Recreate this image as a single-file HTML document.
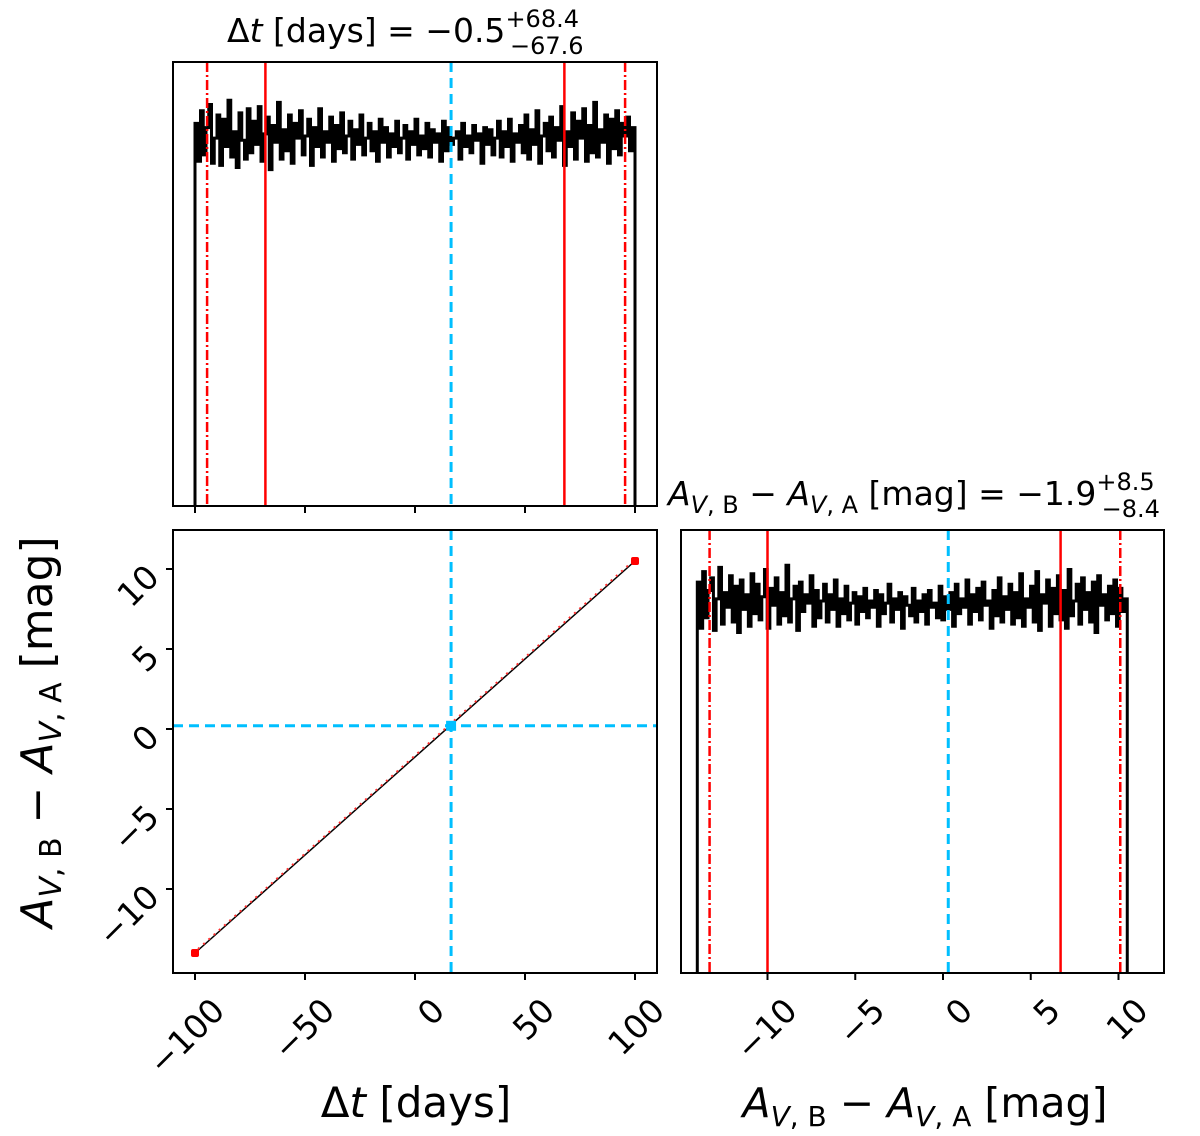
<!DOCTYPE html>
<html><head><meta charset="utf-8"><style>
html,body{margin:0;padding:0;background:#fff;}
svg{display:block;font-family:"DejaVu Sans","Liberation Sans",sans-serif;}
</style></head><body>
<svg id="chart" width="1200" height="1136" viewBox="0 0 1200 1136" xmlns="http://www.w3.org/2000/svg"></svg>
<script>
// ---- data ----
const dtRange = [-100, 100];
const avRange = [-14, 10.5];
const dtTicks = [-100, -50, 0, 50, 100];
const dtTickLabels = ["\u2212100", "\u221250", "0", "50", "100"];
const avTicks = [-10, -5, 0, 5, 10];
const avTickLabels = ["\u221210", "\u22125", "0", "5", "10"];
const dtQuantiles = [-68.0, 67.9];
const dtOuter = [-94.5, 95.5];
const dtTruth = 16.4;
const avQuantiles = [-10.0, 6.7];
const avOuter = [-13.3, 10.1];
const avTruth = 0.3;
const avTruthY = 0.2;
const scatterX = [-100, 100];
const scatterY = [-14, 10.5];
const dtCounts = [106,88,112,91,104,115,87,99,110,86,108,95,117,90,102,85,111,98,89,113,92,107,96,114,88,101,109,84,105,97,116,89,103,93,110,87,106,99,112,91,100,108,86,104,95,113,90,102,97,109,88,105,94,111,92,100,107,89,103,96,110,91,99,106,93,102,88,108,97,104,90,101,95,107,92,99,105,89,102,96,108,91,100,94,106,90,103,97,101,88,107,93,104,96,99,102,89,106,95,100,92,105,98,101,87,104,96,103,91,99,107,90,102,95,108,88,101,97,105,92,110,89,103,96,112,87,100,106,93,109,90,104,98,114,86,102,95,111,89,107,99,113,88,105,92,116,90,103,97,110,87,108,94,112,91,106,100,109,93,104];
const avCounts = [109,87,114,92,105,111,86,101,116,89,104,97,112,90,107,85,110,96,103,88,113,94,108,91,102,115,87,106,98,111,89,104,93,117,90,101,107,86,109,95,103,99,112,88,105,92,100,108,90,103,96,110,88,101,94,107,91,99,104,89,102,95,106,92,100,97,105,88,103,94,99,108,90,101,96,104,87,102,98,93,106,90,100,95,103,89,105,97,99,92,107,91,102,96,104,88,108,94,101,97,110,89,103,95,106,91,109,98,100,87,105,93,111,90,102,96,108,89,104,92,113,88,101,97,107,90,114,86,103,99,110,88,106,94,112,91,105,87,115,93,100,108,89,111,96,104,90,109,85,112,98,103,91,107,94,110,88,106,95,101];

const NS = "http://www.w3.org/2000/svg";
const svg = document.getElementById("chart");
function el(tag, attrs, parent){ const e=document.createElementNS(NS,tag); for(const k in attrs) e.setAttribute(k,attrs[k]); (parent||svg).appendChild(e); return e; }

const P1 = {x0:173,x1:657,y0:62,y1:506};
const P2 = {x0:173,x1:657,y0:530,y1:973};
const P3 = {x0:681,x1:1164,y0:530,y1:973};
const xDt = v => 415 + 2.2*v;
const yAv = v => 729 - 16*v;
const xAv = v => 943 + 17.55*v;
const yC1 = c => 136 - 2.1*(c-100);
const yC3 = c => 601 - 2.1*(c-100);

function vline(x,y0,y1,color,dash,name,w){
  const l=el("line",{x1:x,x2:x,y1:y0,y2:y1,stroke:color,"stroke-width":w||2.5});
  if(dash) l.setAttribute("stroke-dasharray",dash);
  
  
}
function hist(counts, range, xf, yf, base, name){
  const n=counts.length, w=(range[1]-range[0])/n;
  let d="M"+xf(range[0])+","+base;
  for(let i=0;i<n;i++){ const y=yf(counts[i]); d+=" L"+xf(range[0]+i*w)+","+y+" L"+xf(range[0]+(i+1)*w)+","+y; }
  d+=" L"+xf(range[1])+","+base;
  const p=el("path",{d:d,fill:"none",stroke:"#000","stroke-width":3});
  
  
}
function frame(P,name){
  const r=el("rect",{x:P.x0,y:P.y0,width:P.x1-P.x0,height:P.y1-P.y0,fill:"none",stroke:"#000","stroke-width":2});
  
  
}

// Panel 1
hist(dtCounts, dtRange, xDt, yC1, P1.y1, "dt-histogram");
dtOuter.forEach((v,i)=>vline(xDt(v),P1.y0,P1.y1,"#ff0000","10,3,2,3","dt-outer-quantile-"+i,2.5));
dtQuantiles.forEach((v,i)=>vline(xDt(v),P1.y0,P1.y1,"#ff0000",null,"dt-quantile-"+i));
vline(xDt(dtTruth),P1.y0,P1.y1,"#00bfff","10,6","dt-truth-line",3);
frame(P1,"dt-histogram-panel");
dtTicks.forEach(t=>{ el("line",{x1:xDt(t),x2:xDt(t),y1:P1.y1,y2:P1.y1+7,stroke:"#000","stroke-width":2}); });

// Panel 2
const ln=el("line",{x1:xDt(scatterX[0]),y1:yAv(scatterY[0]),x2:xDt(scatterX[1]),y2:yAv(scatterY[1]),stroke:"#000","stroke-width":1.5});


const ld=el("line",{x1:xDt(scatterX[0])+3,y1:yAv(scatterY[0])-4,x2:xDt(scatterX[1])-3,y2:yAv(scatterY[1])+1,stroke:"#ff3030","stroke-width":2,"stroke-dasharray":"2,5"});


scatterX.forEach((x,i)=>{ const c=el("rect",{x:xDt(x)-4,y:yAv(scatterY[i])-4,width:8,height:8,rx:2,fill:"#ff0000"});
  
   });
vline(xDt(dtTruth),P2.y0,P2.y1,"#00bfff","10,6","scatter-truth-vline",3);
const hl=el("line",{x1:P2.x0,x2:P2.x1,y1:yAv(avTruthY),y2:yAv(avTruthY),stroke:"#00bfff","stroke-width":3,"stroke-dasharray":"10,6"});


const sq=el("rect",{x:xDt(dtTruth)-5,y:yAv(avTruthY)-5,width:10,height:10,fill:"#00bfff"});


frame(P2,"scatter-panel");
dtTicks.forEach((t,i)=>{
  el("line",{x1:xDt(t),x2:xDt(t),y1:P2.y1,y2:P2.y1+7,stroke:"#000","stroke-width":2});
  const x=xDt(t)+14, y=P2.y1+22;
  const tx=el("text",{x:x,y:y,"font-size":33,"text-anchor":"end",transform:`rotate(-45 ${x} ${y})`,"dominant-baseline":"hanging"});
  tx.textContent=dtTickLabels[i];
  
  
});
avTicks.forEach((t,i)=>{
  el("line",{x1:P2.x0-7,x2:P2.x0,y1:yAv(t),y2:yAv(t),stroke:"#000","stroke-width":2});
  const x=P2.x0-12, y=yAv(t)+10;
  const tx=el("text",{x:x,y:y,"font-size":33,"text-anchor":"end",transform:`rotate(-45 ${x} ${y})`});
  tx.textContent=avTickLabels[i];
  
  
});

// Panel 3
hist(avCounts, avRange, xAv, yC3, P3.y1, "av-histogram");
avOuter.forEach((v,i)=>vline(xAv(v),P3.y0,P3.y1,"#ff0000","10,3,2,3","av-outer-quantile-"+i,2.5));
avQuantiles.forEach((v,i)=>vline(xAv(v),P3.y0,P3.y1,"#ff0000",null,"av-quantile-"+i));
vline(xAv(avTruth),P3.y0,P3.y1,"#00bfff","10,6","av-truth-line",3);
frame(P3,"av-histogram-panel");
avTicks.forEach((t,i)=>{
  el("line",{x1:xAv(t),x2:xAv(t),y1:P3.y1,y2:P3.y1+7,stroke:"#000","stroke-width":2});
  const x=xAv(t)+14, y=P3.y1+22;
  const tx=el("text",{x:x,y:y,"font-size":33,"text-anchor":"end",transform:`rotate(-45 ${x} ${y})`,"dominant-baseline":"hanging"});
  tx.textContent=avTickLabels[i];
  
  
});
</script>
<script>
const T = document.getElementById("chart");
T.insertAdjacentHTML("beforeend", `
<text x="227" y="42" font-size="33">Δ<tspan font-style="italic">t</tspan> [days] = −0.5<tspan font-size="24" dy="-15">+68.4</tspan><tspan font-size="24" dx="-69" dy="27">−67.6</tspan></text>
<text x="668" y="505" font-size="33"><tspan font-style="italic">A</tspan><tspan font-size="24" dy="8"><tspan font-style="italic">V</tspan>, B</tspan><tspan dy="-8"> − </tspan><tspan font-style="italic">A</tspan><tspan font-size="24" dy="8"><tspan font-style="italic">V</tspan>, A</tspan><tspan dy="-8"> [mag] = −1.9</tspan><tspan font-size="24" dy="-15">+8.5</tspan><tspan font-size="24" dx="-53" dy="27">−8.4</tspan></text>
<text x="416" y="1117" font-size="42" text-anchor="middle">Δ<tspan font-style="italic">t</tspan> [days]</text>
<text x="925" y="1117" font-size="41" text-anchor="middle"><tspan font-style="italic">A</tspan><tspan font-size="28" dy="9"><tspan font-style="italic">V</tspan>, B</tspan><tspan dy="-9"> − </tspan><tspan font-style="italic">A</tspan><tspan font-size="28" dy="9"><tspan font-style="italic">V</tspan>, A</tspan><tspan dy="-9"> [mag]</tspan></text>
<text x="0" y="0" font-size="44" text-anchor="middle" transform="translate(52 732) rotate(-90)"><tspan font-style="italic">A</tspan><tspan font-size="30" dy="9"><tspan font-style="italic">V</tspan>, B</tspan><tspan dy="-9"> − </tspan><tspan font-style="italic">A</tspan><tspan font-size="30" dy="9"><tspan font-style="italic">V</tspan>, A</tspan><tspan dy="-9"> [mag]</tspan></text>
`);
</script>
</body></html>
